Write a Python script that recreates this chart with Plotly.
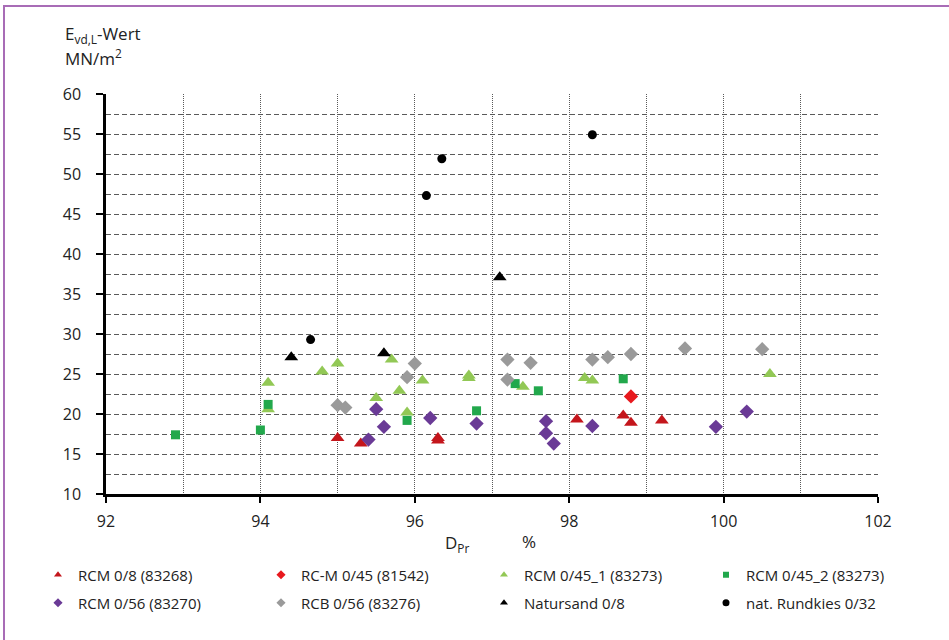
import plotly.graph_objects as go

# ---- data ----
rcm08_x = [95.0, 95.3, 96.3, 96.3, 98.1, 98.7, 98.8, 99.2]
rcm08_y = [17.0, 16.3, 17.0, 16.7, 19.3, 19.8, 18.9, 19.2]

rcm045_x = [98.8]
rcm045_y = [22.2]

rcm0451_x = [94.1, 94.1, 94.8, 95.0, 95.5, 95.7, 95.8, 95.9, 96.1, 96.7, 96.7, 97.4, 98.2, 98.3, 100.6]
rcm0451_y = [23.9, 20.6, 25.3, 26.3, 22.0, 26.8, 22.9, 20.2, 24.2, 24.8, 24.5, 23.4, 24.5, 24.2, 25.0]

rcm0452_x = [92.9, 94.0, 94.1, 95.9, 96.8, 97.3, 97.6, 98.7]
rcm0452_y = [17.4, 18.0, 21.2, 19.2, 20.4, 23.8, 22.9, 24.4]

rcm056_x = [95.4, 95.5, 95.6, 96.2, 96.8, 97.7, 97.7, 97.8, 98.3, 99.9, 100.3]
rcm056_y = [16.8, 20.6, 18.4, 19.5, 18.8, 19.1, 17.6, 16.3, 18.5, 18.4, 20.3]

rcb056_x = [95.0, 95.1, 95.9, 96.0, 97.2, 97.2, 97.5, 98.3, 98.5, 98.8, 99.5, 100.5]
rcb056_y = [21.1, 20.8, 24.6, 26.3, 26.8, 24.3, 26.4, 26.8, 27.1, 27.5, 28.2, 28.1]

natsand_x = [94.4, 95.6, 97.1]
natsand_y = [27.1, 27.6, 37.1]

rundkies_x = [94.65, 96.15, 96.35, 98.3]
rundkies_y = [29.3, 47.3, 51.9, 54.9]

series_names = ["RCM 0/8 (83268)", "RC-M 0/45 (81542)", "RCM 0/45_1 (83273)", "RCM 0/45_2 (83273)",
                "RCM 0/56 (83270)", "RCB 0/56 (83276)", "Natursand 0/8", "nat. Rundkies 0/32"]
x_ticks = [92, 94, 96, 98, 100, 102]
y_ticks = [10, 15, 20, 25, 30, 35, 40, 45, 50, 55, 60]

# ---- styles ----
styles = [
    ("triangle-up", "#c4161c", 12),
    ("diamond", "#e8191e", 11),
    ("triangle-up", "#92c855", 12),
    ("square", "#22a84c", 9),
    ("diamond", "#6a3a96", 11),
    ("diamond", "#9a9a9a", 11),
    ("triangle-up", "#000000", 12),
    ("circle", "#000000", 9),
]
data = [(rcm08_x, rcm08_y), (rcm045_x, rcm045_y), (rcm0451_x, rcm0451_y), (rcm0452_x, rcm0452_y),
        (rcm056_x, rcm056_y), (rcb056_x, rcb056_y), (natsand_x, natsand_y), (rundkies_x, rundkies_y)]

W, H = 949, 640
L, R, T, B = 106, 878, 94, 494
pw, ph = R - L, B - T

def px_x(px):
    return (px - L) / pw

def px_y(py):
    return (B - py) / ph

FONT = "Open Sans"
legend_cols_px = [38, 261, 484, 706]
legend_rows_px = [575, 603]

fig = go.Figure()
for (xs, ys), (sym, col, sz), name in zip(data, styles, series_names):
    fig.add_trace(go.Scatter(x=xs, y=ys, mode="markers", name=name, showlegend=False,
                             marker=dict(symbol=sym, color=col, size=sz, line=dict(width=0)),
                             cliponaxis=False))

legend_layouts = {}
for i, ((sym, col, sz), name) in enumerate(zip(styles, series_names)):
    key = "legend" if i == 0 else f"legend{i + 1}"
    fig.add_trace(go.Scatter(x=[None], y=[None], mode="markers", name=name, legend=key,
                             marker=dict(symbol=sym, color=col, size=7 if sym != "square" else 6)))
    legend_layouts[key] = dict(
        x=px_x(legend_cols_px[i % 4]), y=px_y(legend_rows_px[i // 4]),
        orientation="h", xanchor="left", yanchor="middle", itemwidth=30,
        font=dict(family=FONT, size=15, color="#222"), bgcolor="rgba(0,0,0,0)")

grid_col = "#5a5a5a"

fig.update_layout(
    width=W, height=H,
    margin=dict(l=L, r=W - R, t=T, b=H - B, pad=0, autoexpand=False),
    paper_bgcolor="white", plot_bgcolor="white",
    font=dict(family=FONT, color="#222"),
    xaxis=dict(range=[92, 102], tickvals=x_ticks, ticktext=[str(v) for v in x_ticks],
               showline=True, linecolor="black", linewidth=2.5,
               ticks="outside", ticklen=6, tickwidth=2, tickcolor="black",
               tickfont=dict(family=FONT, size=16, color="#222"), ticklabelstandoff=5,
               showgrid=True, gridcolor=grid_col, gridwidth=1, griddash="1px,1px",
               minor=dict(dtick=1, showgrid=True, gridcolor=grid_col, gridwidth=1, griddash="1px,1px", ticks=""),
               zeroline=False, fixedrange=True, automargin=False),
    yaxis=dict(range=[10, 60], tickvals=y_ticks, ticktext=[str(v) for v in y_ticks],
               showline=True, linecolor="black", linewidth=2.5,
               ticks="outside", ticklen=7, tickwidth=2, tickcolor="black",
               tickfont=dict(family=FONT, size=16, color="#222"), ticklabelstandoff=12,
               showgrid=True, gridcolor=grid_col, gridwidth=1.2, griddash="5px,3px",
               minor=dict(dtick=2.5, showgrid=True, gridcolor=grid_col, gridwidth=1.2, griddash="5px,3px", ticks=""),
               zeroline=False, fixedrange=True, automargin=False),
    annotations=[
        dict(text="E<sub>vd,L</sub>-Wert", xref="paper", yref="paper", x=px_x(63), y=px_y(34),
             xanchor="left", yanchor="middle", showarrow=False, font=dict(family=FONT, size=17, color="#222")),
        dict(text="MN/m<sup>2</sup>", xref="paper", yref="paper", x=px_x(63), y=px_y(58),
             xanchor="left", yanchor="middle", showarrow=False, font=dict(family=FONT, size=17, color="#222")),
        dict(text="D<sub>Pr</sub>", xref="paper", yref="paper", x=px_x(443), y=px_y(543),
             xanchor="left", yanchor="middle", showarrow=False, font=dict(family=FONT, size=17, color="#222")),
        dict(text="%", xref="paper", yref="paper", x=px_x(520), y=px_y(541),
             xanchor="left", yanchor="middle", showarrow=False, font=dict(family=FONT, size=17, color="#222")),
    ],
    shapes=[
        dict(type="path", xref="paper", yref="paper",
             path=f"M {px_x(4)},{px_y(645)} L {px_x(4)},{px_y(6)} L {px_x(955)},{px_y(6)}",
             line=dict(color="#a86cb6", width=2)),
    ],
    **legend_layouts,
)

fig.write_html("out.html", config={"displayModeBar": False},
               post_script="document.body.style.margin='0';document.body.style.overflow='hidden';")
